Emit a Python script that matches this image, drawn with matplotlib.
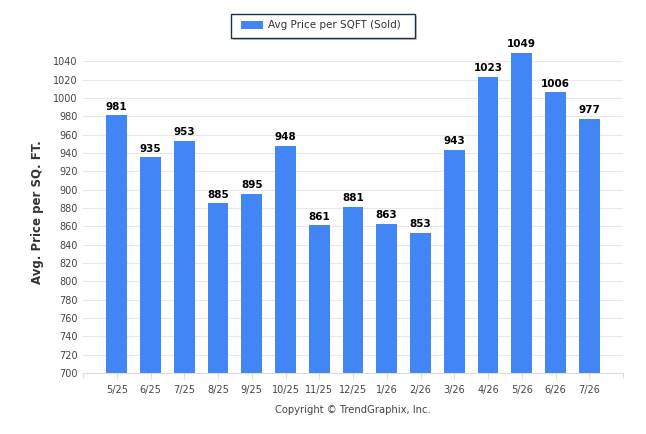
import matplotlib
matplotlib.use("Agg")
import matplotlib.pyplot as plt
from matplotlib.patches import Rectangle

months = ["5/25", "6/25", "7/25", "8/25", "9/25", "10/25", "11/25", "12/25",
          "1/26", "2/26", "3/26", "4/26", "5/26", "6/26", "7/26"]
price_sqft = [981, 935, 953, 885, 895, 948, 861, 881, 863, 853, 943, 1023, 1049, 1006, 977]
y_ticks = list(range(700, 1041, 20))

BAR_COLOR = "#4285f4"
TEXT_GRAY = "#444444"

plt.rcParams["font.family"] = ["DejaVu Sans"]

fig = plt.figure(figsize=(6.46, 4.34), dpi=100)
ax = fig.add_axes([83 / 646, 61 / 434, 540 / 646, 321 / 434])

x = list(range(len(months)))
ax.bar(x, price_sqft, width=0.62, color=BAR_COLOR, zorder=2)
for xi, v in zip(x, price_sqft):
    ax.text(xi, v + 4, str(v), ha="center", va="bottom", fontsize=7.5,
            fontweight="bold", color="black", clip_on=False)

ax.set_xlim(-1, len(months))
ax.set_ylim(700, 1050)
ax.set_yticks(y_ticks)
ax.set_yticklabels([str(t) for t in y_ticks], fontsize=7, color=TEXT_GRAY)
ax.set_xticks(x)
ax.set_xticklabels(months, fontsize=7, color=TEXT_GRAY)
ax.tick_params(axis="y", length=0, pad=4)
ax.tick_params(axis="x", length=4, color="#dddddd", pad=5)

ax.grid(axis="y", color="#e8e8e8", linewidth=0.8, zorder=0)
for s in ["top", "right", "left"]:
    ax.spines[s].set_visible(False)
ax.spines["bottom"].set_color("#dddddd")

# edge ticks on the x axis
for xe in (-1, len(months)):
    ax.plot([xe, xe], [0, -0.012], transform=ax.get_xaxis_transform(),
            color="#dddddd", linewidth=0.8, clip_on=False)

ax.set_ylabel("Avg. Price per SQ. FT.", fontsize=8.5, fontweight="bold",
              color="#333333", labelpad=6)

# legend box
fig.patches.append(Rectangle((233 / 646, 1 - 40 / 434), 184 / 646, 24 / 434,
                             transform=fig.transFigure, facecolor="#999999",
                             edgecolor="none", alpha=0.5))
fig.patches.append(Rectangle((231 / 646, 1 - 38 / 434), 184 / 646, 24 / 434,
                             transform=fig.transFigure, facecolor="white",
                             edgecolor="#1f2d4d", linewidth=1.0))
fig.patches.append(Rectangle((241 / 646, 1 - 29 / 434), 22 / 646, 8 / 434,
                             transform=fig.transFigure, facecolor=BAR_COLOR,
                             edgecolor="none"))
fig.text(268 / 646, 1 - 25 / 434, "Avg Price per SQFT (Sold)", fontsize=7.5,
         color="#333333", ha="left", va="center")

fig.text(353 / 646, 1 - 410 / 434, "Copyright © TrendGraphix, Inc.", fontsize=7.2,
         color="#444444", ha="center", va="center")

fig.savefig("out.png", dpi=100)
